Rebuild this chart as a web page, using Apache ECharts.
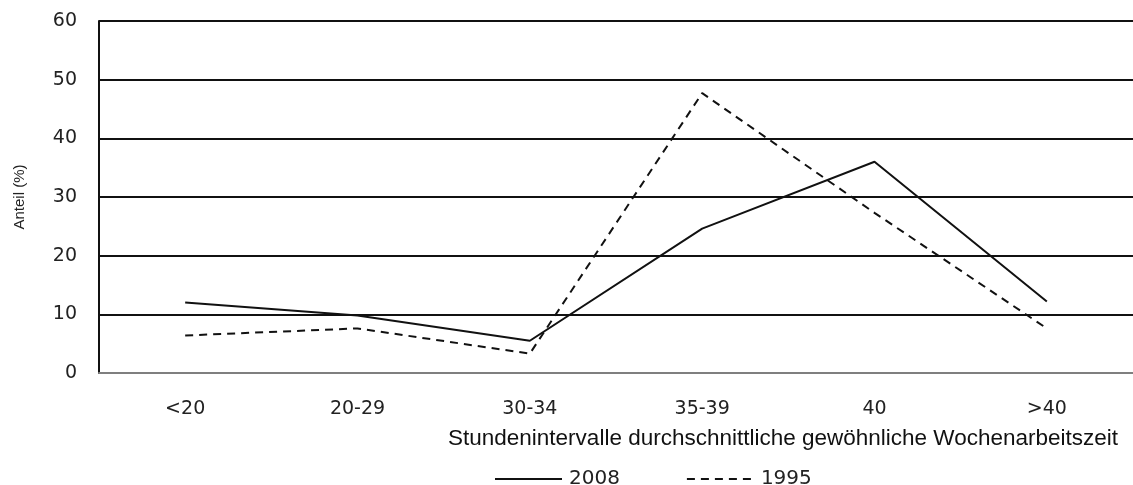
<!DOCTYPE html>
<html>
<head>
<meta charset="utf-8">
<script src="https://cdn.jsdelivr.net/npm/echarts@6/dist/echarts.min.js"></script>
<style>
  html, body { margin: 0; padding: 0; background: #fff; }
  #chart { width: 1133px; height: 485px; }
</style>
</head>
<body>
<div id="chart"></div>
<script>
// Stundenintervalle der gewöhnlichen Wochenarbeitszeit
const categories = ['<20', '20-29', '30-34', '35-39', '40', '>40'];
// Anteil in Prozent je Intervall
const values2008 = [12.0, 9.8, 5.5, 24.6, 36.0, 12.2];
const values1995 = [6.4, 7.6, 3.3, 47.7, 27.3, 7.6];
const yTicks = { min: 0, max: 60, interval: 10 };

const chart = echarts.init(document.getElementById('chart'), null, { renderer: 'canvas' });

chart.setOption({
  animation: false,
  backgroundColor: '#ffffff',
  grid: { left: 99, top: 21, width: 1038, height: 352, containLabel: false },
  legend: {
    left: 489,
    top: 464,
    itemWidth: 67,
    itemHeight: 12,
    itemGap: 66,
    itemStyle: { color: 'transparent', borderWidth: 0 },
    textStyle: { fontFamily: 'DejaVu Sans', fontSize: 20, color: '#222', padding: [0, 0, 0, 2] },
    data: ['2008', '1995']
  },
  xAxis: {
    type: 'category',
    data: categories,
    boundaryGap: true,
    axisLine: { show: true, lineStyle: { color: '#7f7f7f', width: 2 } },
    axisTick: { show: false },
    axisLabel: { margin: 27, fontFamily: 'DejaVu Sans', fontSize: 19, color: '#222' },
    name: 'Stundenintervalle durchschnittliche gewöhnliche Wochenarbeitszeit',
    nameLocation: 'end',
    nameGap: -15,
    nameTextStyle: {
      fontFamily: 'Liberation Sans', fontSize: 22.5, color: '#111',
      align: 'right', verticalAlign: 'top', padding: [54, 0, 0, 0]
    }
  },
  yAxis: {
    type: 'value',
    min: yTicks.min,
    max: yTicks.max,
    interval: yTicks.interval,
    axisLine: { show: true, lineStyle: { color: '#111', width: 2 } },
    axisTick: { show: false },
    splitLine: { show: true, lineStyle: { color: '#111', width: 2 } },
    axisLabel: { margin: 22, fontFamily: 'DejaVu Sans', fontSize: 19, color: '#222' },
    name: 'Anteil (%)',
    nameLocation: 'middle',
    nameGap: 72,
    nameRotate: 90,
    nameTextStyle: { fontFamily: 'Liberation Sans Narrow, Liberation Sans', fontSize: 15, color: '#222' }
  },
  series: [
    {
      name: '2008',
      type: 'line',
      data: values2008,
      symbol: 'none',
      lineStyle: { color: '#111', width: 2, type: 'solid' },
      itemStyle: { color: '#111' },
      z: 3
    },
    {
      name: '1995',
      type: 'line',
      data: values1995,
      symbol: 'none',
      lineStyle: { color: '#111', width: 2, type: [8, 6] },
      itemStyle: { color: '#111' },
      z: 3
    }
  ]
});
</script>
</body>
</html>
